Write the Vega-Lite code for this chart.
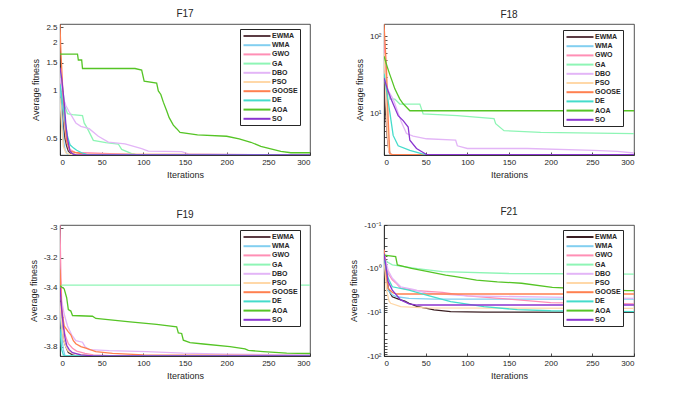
{
  "$schema": "https://vega.github.io/schema/vega-lite/v6.json",
  "background": "white",
  "padding": {"left": 28, "top": 8, "right": 5, "bottom": 5},
  "columns": 2,
  "spacing": {"row": 26, "column": 38},
  "datasets": {
    "f17": [
      {"a":"EWMA","i":0,"v":1.05},{"a":"EWMA","i":2,"v":0.8},{"a":"EWMA","i":4,"v":0.6},{"a":"EWMA","i":6,"v":0.5},{"a":"EWMA","i":8,"v":0.45},{"a":"EWMA","i":10,"v":0.42},{"a":"EWMA","i":13,"v":0.405},{"a":"EWMA","i":18,"v":0.4},{"a":"EWMA","i":25,"v":0.398},{"a":"EWMA","i":300,"v":0.398},
      {"a":"WMA","i":0,"v":1.1},{"a":"WMA","i":2,"v":0.75},{"a":"WMA","i":4,"v":0.5},{"a":"WMA","i":6,"v":0.43},{"a":"WMA","i":9,"v":0.4},{"a":"WMA","i":20,"v":0.398},{"a":"WMA","i":300,"v":0.398},
      {"a":"GWO","i":0,"v":1.3},{"a":"GWO","i":3,"v":0.9},{"a":"GWO","i":6,"v":0.6},{"a":"GWO","i":9,"v":0.48},{"a":"GWO","i":12,"v":0.43},{"a":"GWO","i":18,"v":0.412},{"a":"GWO","i":30,"v":0.41},{"a":"GWO","i":60,"v":0.405},{"a":"GWO","i":90,"v":0.4},{"a":"GWO","i":150,"v":0.398},{"a":"GWO","i":300,"v":0.398},
      {"a":"GA","i":0,"v":1.35},{"a":"GA","i":3,"v":1.05},{"a":"GA","i":6,"v":0.8},{"a":"GA","i":9,"v":0.72},{"a":"GA","i":15,"v":0.71},{"a":"GA","i":27,"v":0.7},{"a":"GA","i":29,"v":0.63},{"a":"GA","i":33,"v":0.58},{"a":"GA","i":40,"v":0.49},{"a":"GA","i":55,"v":0.475},{"a":"GA","i":70,"v":0.465},{"a":"GA","i":74,"v":0.43},{"a":"GA","i":86,"v":0.405},{"a":"GA","i":92,"v":0.399},{"a":"GA","i":300,"v":0.398},
      {"a":"DBO","i":0,"v":1.2},{"a":"DBO","i":4,"v":0.9},{"a":"DBO","i":7,"v":0.81},{"a":"DBO","i":11,"v":0.74},{"a":"DBO","i":19,"v":0.63},{"a":"DBO","i":25,"v":0.6},{"a":"DBO","i":35,"v":0.58},{"a":"DBO","i":46,"v":0.52},{"a":"DBO","i":58,"v":0.478},{"a":"DBO","i":78,"v":0.466},{"a":"DBO","i":98,"v":0.435},{"a":"DBO","i":106,"v":0.42},{"a":"DBO","i":146,"v":0.417},{"a":"DBO","i":154,"v":0.404},{"a":"DBO","i":200,"v":0.4},{"a":"DBO","i":300,"v":0.399},
      {"a":"PSO","i":0,"v":0.9},{"a":"PSO","i":2,"v":0.6},{"a":"PSO","i":4,"v":0.45},{"a":"PSO","i":7,"v":0.41},{"a":"PSO","i":12,"v":0.4},{"a":"PSO","i":300,"v":0.398},
      {"a":"GOOSE","i":0,"v":2.6},{"a":"GOOSE","i":1,"v":1.8},{"a":"GOOSE","i":3,"v":1.1},{"a":"GOOSE","i":5,"v":0.7},{"a":"GOOSE","i":8,"v":0.48},{"a":"GOOSE","i":12,"v":0.42},{"a":"GOOSE","i":20,"v":0.41},{"a":"GOOSE","i":30,"v":0.402},{"a":"GOOSE","i":300,"v":0.398},
      {"a":"DE","i":0,"v":1.1},{"a":"DE","i":3,"v":0.85},{"a":"DE","i":6,"v":0.65},{"a":"DE","i":9,"v":0.52},{"a":"DE","i":12,"v":0.46},{"a":"DE","i":16,"v":0.44},{"a":"DE","i":20,"v":0.425},{"a":"DE","i":26,"v":0.41},{"a":"DE","i":32,"v":0.4},{"a":"DE","i":300,"v":0.398},
      {"a":"AOA","i":0,"v":1.7},{"a":"AOA","i":21,"v":1.7},{"a":"AOA","i":22,"v":1.56},{"a":"AOA","i":26,"v":1.56},{"a":"AOA","i":27,"v":1.38},{"a":"AOA","i":90,"v":1.38},{"a":"AOA","i":98,"v":1.35},{"a":"AOA","i":101,"v":1.15},{"a":"AOA","i":116,"v":1.12},{"a":"AOA","i":118,"v":1.0},{"a":"AOA","i":121,"v":0.95},{"a":"AOA","i":124,"v":0.85},{"a":"AOA","i":128,"v":0.75},{"a":"AOA","i":131,"v":0.68},{"a":"AOA","i":136,"v":0.61},{"a":"AOA","i":140,"v":0.58},{"a":"AOA","i":144,"v":0.55},{"a":"AOA","i":165,"v":0.53},{"a":"AOA","i":200,"v":0.52},{"a":"AOA","i":215,"v":0.5},{"a":"AOA","i":229,"v":0.477},{"a":"AOA","i":241,"v":0.45},{"a":"AOA","i":253,"v":0.433},{"a":"AOA","i":265,"v":0.418},{"a":"AOA","i":277,"v":0.41},{"a":"AOA","i":300,"v":0.41},
      {"a":"SO","i":0,"v":1.4},{"a":"SO","i":2,"v":1.2},{"a":"SO","i":5,"v":0.85},{"a":"SO","i":7,"v":0.62},{"a":"SO","i":9,"v":0.5},{"a":"SO","i":12,"v":0.42},{"a":"SO","i":16,"v":0.4},{"a":"SO","i":20,"v":0.398},{"a":"SO","i":300,"v":0.398}
    ],
    "f18": [
      {"a":"EWMA","i":0,"v":25},{"a":"EWMA","i":2,"v":10},{"a":"EWMA","i":4,"v":5},{"a":"EWMA","i":6,"v":3.3},{"a":"EWMA","i":8,"v":3.0},{"a":"EWMA","i":300,"v":3.0},
      {"a":"WMA","i":0,"v":110},{"a":"WMA","i":2,"v":30},{"a":"WMA","i":4,"v":8},{"a":"WMA","i":6,"v":3.5},{"a":"WMA","i":8,"v":3.0},{"a":"WMA","i":300,"v":3.0},
      {"a":"GWO","i":0,"v":90},{"a":"GWO","i":2,"v":25},{"a":"GWO","i":4,"v":6},{"a":"GWO","i":6,"v":3.2},{"a":"GWO","i":9,"v":3.0},{"a":"GWO","i":300,"v":3.0},
      {"a":"GA","i":0,"v":34},{"a":"GA","i":4,"v":22},{"a":"GA","i":7,"v":15.5},{"a":"GA","i":13,"v":15.5},{"a":"GA","i":19,"v":13.4},{"a":"GA","i":43,"v":13.4},{"a":"GA","i":47,"v":10},{"a":"GA","i":88,"v":9.5},{"a":"GA","i":132,"v":8.7},{"a":"GA","i":134,"v":7.5},{"a":"GA","i":144,"v":6.1},{"a":"GA","i":188,"v":5.8},{"a":"GA","i":300,"v":5.6},
      {"a":"DBO","i":0,"v":30},{"a":"DBO","i":5,"v":20},{"a":"DBO","i":11,"v":15.5},{"a":"DBO","i":16,"v":11},{"a":"DBO","i":21,"v":7.8},{"a":"DBO","i":27,"v":5.6},{"a":"DBO","i":35,"v":5.2},{"a":"DBO","i":51,"v":4.8},{"a":"DBO","i":86,"v":4.6},{"a":"DBO","i":88,"v":3.9},{"a":"DBO","i":100,"v":3.6},{"a":"DBO","i":172,"v":3.6},{"a":"DBO","i":252,"v":3.4},{"a":"DBO","i":280,"v":3.3},{"a":"DBO","i":300,"v":3.15},
      {"a":"PSO","i":0,"v":60},{"a":"PSO","i":2,"v":20},{"a":"PSO","i":4,"v":6},{"a":"PSO","i":6,"v":3.3},{"a":"PSO","i":8,"v":3.0},{"a":"PSO","i":300,"v":3.0},
      {"a":"GOOSE","i":0,"v":143},{"a":"GOOSE","i":3,"v":37},{"a":"GOOSE","i":5,"v":8.6},{"a":"GOOSE","i":7,"v":3.1},{"a":"GOOSE","i":10,"v":3.0},{"a":"GOOSE","i":300,"v":3.0},
      {"a":"DE","i":0,"v":33},{"a":"DE","i":3,"v":20},{"a":"DE","i":7,"v":10.5},{"a":"DE","i":11,"v":5.3},{"a":"DE","i":17,"v":3.9},{"a":"DE","i":31,"v":3.4},{"a":"DE","i":45,"v":3.1},{"a":"DE","i":51,"v":3.0},{"a":"DE","i":300,"v":3.0},
      {"a":"AOA","i":0,"v":55},{"a":"AOA","i":4,"v":40},{"a":"AOA","i":7,"v":32},{"a":"AOA","i":10,"v":26},{"a":"AOA","i":13,"v":21},{"a":"AOA","i":16,"v":18},{"a":"AOA","i":19,"v":15.5},{"a":"AOA","i":23,"v":13.5},{"a":"AOA","i":27,"v":12.2},{"a":"AOA","i":31,"v":11.0},{"a":"AOA","i":300,"v":11.0},
      {"a":"SO","i":0,"v":29},{"a":"SO","i":4,"v":21},{"a":"SO","i":8,"v":16},{"a":"SO","i":11,"v":13.4},{"a":"SO","i":17,"v":9.5},{"a":"SO","i":23,"v":8.2},{"a":"SO","i":29,"v":6.8},{"a":"SO","i":31,"v":4.6},{"a":"SO","i":39,"v":3.6},{"a":"SO","i":47,"v":3.2},{"a":"SO","i":51,"v":3.0},{"a":"SO","i":300,"v":3.0}
    ],
    "f19": [
      {"a":"EWMA","i":0,"v":-3.5},{"a":"EWMA","i":2,"v":-3.65},{"a":"EWMA","i":4,"v":-3.75},{"a":"EWMA","i":7,"v":-3.8},{"a":"EWMA","i":10,"v":-3.84},{"a":"EWMA","i":15,"v":-3.855},{"a":"EWMA","i":20,"v":-3.862},{"a":"EWMA","i":300,"v":-3.8628},
      {"a":"WMA","i":0,"v":-3.55},{"a":"WMA","i":2,"v":-3.72},{"a":"WMA","i":4,"v":-3.82},{"a":"WMA","i":6,"v":-3.86},{"a":"WMA","i":10,"v":-3.8628},{"a":"WMA","i":300,"v":-3.8628},
      {"a":"GWO","i":0,"v":-2.98},{"a":"GWO","i":1,"v":-3.3},{"a":"GWO","i":2,"v":-3.5},{"a":"GWO","i":4,"v":-3.65},{"a":"GWO","i":6,"v":-3.72},{"a":"GWO","i":10,"v":-3.78},{"a":"GWO","i":15,"v":-3.81},{"a":"GWO","i":20,"v":-3.83},{"a":"GWO","i":30,"v":-3.845},{"a":"GWO","i":40,"v":-3.855},{"a":"GWO","i":60,"v":-3.86},{"a":"GWO","i":300,"v":-3.862},
      {"a":"GA","i":0,"v":-3.385},{"a":"GA","i":300,"v":-3.385},
      {"a":"DBO","i":0,"v":-3.45},{"a":"DBO","i":3,"v":-3.52},{"a":"DBO","i":5,"v":-3.58},{"a":"DBO","i":9,"v":-3.66},{"a":"DBO","i":14,"v":-3.72},{"a":"DBO","i":19,"v":-3.76},{"a":"DBO","i":27,"v":-3.77},{"a":"DBO","i":30,"v":-3.8},{"a":"DBO","i":35,"v":-3.82},{"a":"DBO","i":59,"v":-3.827},{"a":"DBO","i":104,"v":-3.833},{"a":"DBO","i":148,"v":-3.844},{"a":"DBO","i":200,"v":-3.85},{"a":"DBO","i":300,"v":-3.855},
      {"a":"PSO","i":0,"v":-3.5},{"a":"PSO","i":2,"v":-3.65},{"a":"PSO","i":4,"v":-3.75},{"a":"PSO","i":7,"v":-3.8},{"a":"PSO","i":10,"v":-3.83},{"a":"PSO","i":20,"v":-3.85},{"a":"PSO","i":40,"v":-3.86},{"a":"PSO","i":300,"v":-3.862},
      {"a":"GOOSE","i":0,"v":-3.28},{"a":"GOOSE","i":2,"v":-3.55},{"a":"GOOSE","i":5,"v":-3.66},{"a":"GOOSE","i":10,"v":-3.7},{"a":"GOOSE","i":13,"v":-3.72},{"a":"GOOSE","i":16,"v":-3.76},{"a":"GOOSE","i":19,"v":-3.78},{"a":"GOOSE","i":25,"v":-3.8},{"a":"GOOSE","i":31,"v":-3.81},{"a":"GOOSE","i":43,"v":-3.833},{"a":"GOOSE","i":63,"v":-3.845},{"a":"GOOSE","i":100,"v":-3.855},{"a":"GOOSE","i":300,"v":-3.86},
      {"a":"DE","i":0,"v":-3.68},{"a":"DE","i":2,"v":-3.82},{"a":"DE","i":4,"v":-3.855},{"a":"DE","i":6,"v":-3.8628},{"a":"DE","i":300,"v":-3.8628},
      {"a":"AOA","i":0,"v":-3.39},{"a":"AOA","i":5,"v":-3.41},{"a":"AOA","i":8,"v":-3.47},{"a":"AOA","i":10,"v":-3.55},{"a":"AOA","i":13,"v":-3.56},{"a":"AOA","i":15,"v":-3.59},{"a":"AOA","i":39,"v":-3.595},{"a":"AOA","i":43,"v":-3.61},{"a":"AOA","i":84,"v":-3.633},{"a":"AOA","i":116,"v":-3.649},{"a":"AOA","i":140,"v":-3.667},{"a":"AOA","i":142,"v":-3.707},{"a":"AOA","i":146,"v":-3.711},{"a":"AOA","i":148,"v":-3.756},{"a":"AOA","i":156,"v":-3.773},{"a":"AOA","i":172,"v":-3.782},{"a":"AOA","i":204,"v":-3.8},{"a":"AOA","i":222,"v":-3.815},{"a":"AOA","i":226,"v":-3.825},{"a":"AOA","i":244,"v":-3.833},{"a":"AOA","i":272,"v":-3.844},{"a":"AOA","i":300,"v":-3.846},
      {"a":"SO","i":0,"v":-3.4},{"a":"SO","i":2,"v":-3.55},{"a":"SO","i":4,"v":-3.66},{"a":"SO","i":6,"v":-3.74},{"a":"SO","i":8,"v":-3.79},{"a":"SO","i":11,"v":-3.82},{"a":"SO","i":15,"v":-3.84},{"a":"SO","i":25,"v":-3.855},{"a":"SO","i":40,"v":-3.862},{"a":"SO","i":300,"v":-3.8628}
    ],
    "f21": [
      {"a":"EWMA","i":0,"v":-0.5},{"a":"EWMA","i":3,"v":-1.2},{"a":"EWMA","i":5,"v":-2.8},{"a":"EWMA","i":8,"v":-3.8},{"a":"EWMA","i":10,"v":-4.4},{"a":"EWMA","i":15,"v":-4.8},{"a":"EWMA","i":20,"v":-5.2},{"a":"EWMA","i":25,"v":-5.5},{"a":"EWMA","i":30,"v":-6.2},{"a":"EWMA","i":40,"v":-7.4},{"a":"EWMA","i":50,"v":-8.0},{"a":"EWMA","i":60,"v":-8.8},{"a":"EWMA","i":80,"v":-9.6},{"a":"EWMA","i":120,"v":-9.9},{"a":"EWMA","i":300,"v":-10.0},
      {"a":"WMA","i":0,"v":-0.58},{"a":"WMA","i":3,"v":-1.8},{"a":"WMA","i":5,"v":-3.1},{"a":"WMA","i":10,"v":-4.0},{"a":"WMA","i":15,"v":-4.4},{"a":"WMA","i":30,"v":-4.8},{"a":"WMA","i":60,"v":-5.0},{"a":"WMA","i":300,"v":-5.0},
      {"a":"GWO","i":0,"v":-0.37},{"a":"GWO","i":3,"v":-0.9},{"a":"GWO","i":5,"v":-1.29},{"a":"GWO","i":10,"v":-1.8},{"a":"GWO","i":15,"v":-2.2},{"a":"GWO","i":20,"v":-2.8},{"a":"GWO","i":40,"v":-3.2},{"a":"GWO","i":70,"v":-3.5},{"a":"GWO","i":100,"v":-4.2},{"a":"GWO","i":150,"v":-5.0},{"a":"GWO","i":200,"v":-6.0},{"a":"GWO","i":300,"v":-6.4},
      {"a":"GA","i":0,"v":-0.6},{"a":"GA","i":5,"v":-0.72},{"a":"GA","i":10,"v":-0.82},{"a":"GA","i":40,"v":-1.0},{"a":"GA","i":70,"v":-1.17},{"a":"GA","i":150,"v":-1.29},{"a":"GA","i":300,"v":-1.33},
      {"a":"DBO","i":0,"v":-0.45},{"a":"DBO","i":5,"v":-1.1},{"a":"DBO","i":10,"v":-1.66},{"a":"DBO","i":20,"v":-2.6},{"a":"DBO","i":35,"v":-3.0},{"a":"DBO","i":50,"v":-3.6},{"a":"DBO","i":100,"v":-4.2},{"a":"DBO","i":200,"v":-4.5},{"a":"DBO","i":300,"v":-4.8},
      {"a":"PSO","i":0,"v":-0.55},{"a":"PSO","i":3,"v":-3.1},{"a":"PSO","i":6,"v":-5.5},{"a":"PSO","i":8,"v":-6.2},{"a":"PSO","i":20,"v":-7.4},{"a":"PSO","i":50,"v":-7.9},{"a":"PSO","i":300,"v":-8.1},
      {"a":"GOOSE","i":0,"v":-0.37},{"a":"GOOSE","i":3,"v":-1.5},{"a":"GOOSE","i":5,"v":-2.8},{"a":"GOOSE","i":10,"v":-3.5},{"a":"GOOSE","i":15,"v":-3.8},{"a":"GOOSE","i":300,"v":-3.8},
      {"a":"DE","i":0,"v":-0.6},{"a":"DE","i":5,"v":-1.66},{"a":"DE","i":10,"v":-2.6},{"a":"DE","i":30,"v":-3.1},{"a":"DE","i":50,"v":-4.0},{"a":"DE","i":80,"v":-5.7},{"a":"DE","i":120,"v":-7.4},{"a":"DE","i":160,"v":-8.7},{"a":"DE","i":200,"v":-9.2},{"a":"DE","i":300,"v":-9.6},
      {"a":"AOA","i":0,"v":-0.49},{"a":"AOA","i":14,"v":-0.53},{"a":"AOA","i":16,"v":-0.82},{"a":"AOA","i":33,"v":-0.98},{"a":"AOA","i":53,"v":-1.17},{"a":"AOA","i":74,"v":-1.4},{"a":"AOA","i":86,"v":-1.53},{"a":"AOA","i":111,"v":-1.82},{"a":"AOA","i":136,"v":-2.0},{"a":"AOA","i":165,"v":-2.16},{"a":"AOA","i":202,"v":-2.67},{"a":"AOA","i":251,"v":-2.96},{"a":"AOA","i":292,"v":-3.19},{"a":"AOA","i":300,"v":-3.19},
      {"a":"SO","i":0,"v":-0.45},{"a":"SO","i":5,"v":-2.0},{"a":"SO","i":10,"v":-3.1},{"a":"SO","i":20,"v":-5.2},{"a":"SO","i":30,"v":-6.4},{"a":"SO","i":40,"v":-6.8},{"a":"SO","i":300,"v":-6.8}
    ]
  },
  "concat": [
    {
      "width": 250, "height": 131, "title": "F17",
      "data": {"name": "f17"},
      "mark": {"type": "line", "strokeWidth": 1.3, "clip": true},
      "encoding": {
        "x": {"field": "i", "type": "quantitative", "scale": {"domain": [0, 300], "nice": false}, "axis": {"values": [0,50,100,150,200,250,300], "title": "Iterations"}},
        "y": {"field": "v", "type": "quantitative", "scale": {"type": "log", "domain": [0.397, 2.62], "nice": false}, "axis": {"values": [0.5,1,1.5,2,2.5], "format": "~g", "title": "Average fitness"}},
        "color": {"field": "a", "type": "nominal", "sort": null,
          "scale": {"domain": ["EWMA","WMA","GWO","GA","DBO","PSO","GOOSE","DE","AOA","SO"], "range": ["#5c3c44","#82cff0","#ff8fb5","#8ef5b5","#e3b5f7","#ffd8a8","#ff8050","#45dccb","#55c425","#8a35d0"]},
          "legend": {"orient": "none", "legendX": 180, "legendY": 5}}
      }
    },
    {
      "width": 250, "height": 131, "title": "F18",
      "data": {"name": "f18"},
      "mark": {"type": "line", "strokeWidth": 1.3, "clip": true},
      "encoding": {
        "x": {"field": "i", "type": "quantitative", "scale": {"domain": [0, 300], "nice": false}, "axis": {"values": [0,50,100,150,200,250,300], "title": "Iterations"}},
        "y": {"field": "v", "type": "quantitative", "scale": {"type": "log", "domain": [2.97, 143], "nice": false}, "axis": {"values": [3,4,5,6,7,8,9,10,20,30,40,50,60,70,80,90,100], "labelExpr": "datum.value == 100 ? '10²' : datum.value == 10 ? '10¹' : ''", "title": "Average fitness"}},
        "color": {"field": "a", "type": "nominal", "sort": null,
          "scale": {"domain": ["EWMA","WMA","GWO","GA","DBO","PSO","GOOSE","DE","AOA","SO"], "range": ["#5c3c44","#82cff0","#ff8fb5","#8ef5b5","#e3b5f7","#ffd8a8","#ff8050","#45dccb","#55c425","#8a35d0"]},
          "legend": {"orient": "none", "legendX": 179, "legendY": 6}}
      }
    },
    {
      "width": 250, "height": 131, "title": "F19",
      "data": {"name": "f19"},
      "mark": {"type": "line", "strokeWidth": 1.3, "clip": true},
      "encoding": {
        "x": {"field": "i", "type": "quantitative", "scale": {"domain": [0, 300], "nice": false}, "axis": {"values": [0,50,100,150,200,250,300], "title": "Iterations"}},
        "y": {"field": "v", "type": "quantitative", "scale": {"domain": [-3.8628, -2.98], "nice": false, "zero": false}, "axis": {"values": [-3.8,-3.6,-3.4,-3.2,-3], "labelExpr": "'-' + format(-datum.value, '~g')", "title": "Average fitness"}},
        "color": {"field": "a", "type": "nominal", "sort": null,
          "scale": {"domain": ["EWMA","WMA","GWO","GA","DBO","PSO","GOOSE","DE","AOA","SO"], "range": ["#5c3c44","#82cff0","#ff8fb5","#8ef5b5","#e3b5f7","#ffd8a8","#ff8050","#45dccb","#55c425","#8a35d0"]},
          "legend": {"orient": "none", "legendX": 180, "legendY": 5}}
      }
    },
    {
      "width": 250, "height": 131, "title": "F21",
      "data": {"name": "f21"},
      "mark": {"type": "line", "strokeWidth": 1.3, "clip": true},
      "encoding": {
        "x": {"field": "i", "type": "quantitative", "scale": {"domain": [0, 300], "nice": false}, "axis": {"values": [0,50,100,150,200,250,300], "title": "Iterations"}},
        "y": {"field": "v", "type": "quantitative", "scale": {"type": "log", "domain": [-100, -0.1], "nice": false}, "axis": {"values": [-100,-90,-80,-70,-60,-50,-40,-30,-20,-10,-9,-8,-7,-6,-5,-4,-3,-2,-1,-0.9,-0.8,-0.7,-0.6,-0.5,-0.4,-0.3,-0.2,-0.1], "labelExpr": "datum.value == -100 ? '-10²' : datum.value == -10 ? '-10¹' : datum.value == -1 ? '-10⁰' : datum.value == -0.1 ? '-10⁻¹' : ''", "title": "Average fitness"}},
        "color": {"field": "a", "type": "nominal", "sort": null,
          "scale": {"domain": ["EWMA","WMA","GWO","GA","DBO","PSO","GOOSE","DE","AOA","SO"], "range": ["#3a1e22","#82cff0","#ff8fb5","#8ef5b5","#e3b5f7","#ffd8a8","#ff8050","#45dccb","#55c425","#8a35d0"]},
          "legend": {"orient": "none", "legendX": 179, "legendY": 5}}
      }
    }
  ],
  "resolve": {"scale": {"x": "independent", "y": "independent", "color": "independent"}, "legend": {"color": "independent"}},
  "config": {
    "font": "Liberation Sans",
    "view": {"stroke": "#262626", "strokeWidth": 0.8},
    "axis": {"grid": false, "domainColor": "#262626", "domainWidth": 0.8, "tickColor": "#262626", "tickSize": -3, "tickWidth": 0.8, "labelColor": "#262626", "titleColor": "#262626", "labelFontSize": 8, "titleFontSize": 9, "titleFontWeight": "normal", "labelPadding": 6, "titlePadding": 4, "labelOverlap": false},
    "axisY": {"titlePadding": 5},
    "title": {"fontSize": 10, "fontWeight": "normal", "color": "#262626", "offset": 4},
    "legend": {"title": null, "strokeColor": "#262626", "fillColor": "white", "padding": 2, "labelFontSize": 7, "labelFontWeight": "bold", "labelColor": "#262626", "rowPadding": 0.2, "symbolType": "M-3.375,0H3.375", "symbolSize": 64, "symbolStrokeWidth": 2, "symbolOffset": 10, "labelOffset": 10}
  }
}
